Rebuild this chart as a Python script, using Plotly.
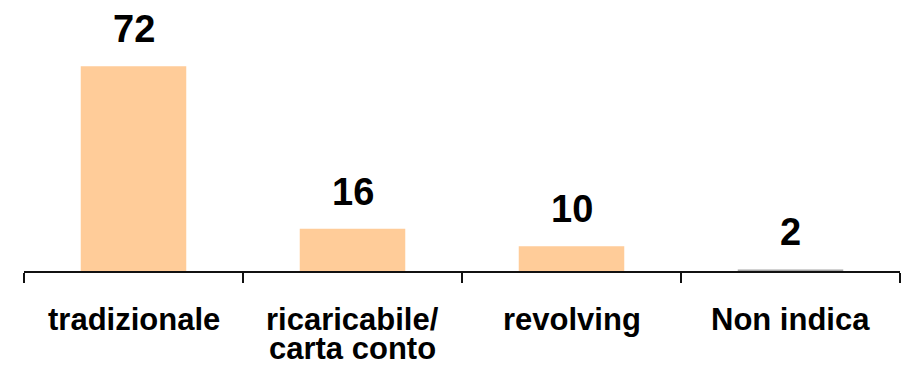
import plotly.graph_objects as go

categories = ["tradizionale", "ricaricabile/<br>carta conto", "revolving", "Non indica"]
values = [72, 16, 10, 2]
bar_colors = ["#FFCC99", "#FFCC99", "#FFCC99", "#A6A6A6"]

FONT = "Liberation Sans, Arial, sans-serif"

fig = go.Figure()
fig.add_trace(go.Bar(
    x=categories,
    y=values,
    marker=dict(color=bar_colors, line=dict(color=bar_colors, width=1.5)),
    hoverinfo="skip",
))

annotations = []
for c, v in zip(categories, values):
    annotations.append(dict(
        x=c, y=v, xref="x", yref="y", text=f"<b>{v}</b>", showarrow=False,
        yanchor="middle", yshift=38,
        font=dict(family=FONT, size=38, color="black"),
    ))
for c in categories:
    for j, line in enumerate(c.split("<br>")):
        annotations.append(dict(
            x=c, y=0, xref="x", yref="paper", text=f"<b>{line}</b>", showarrow=False,
            yanchor="middle", yshift=-48 - 29 * j, borderpad=0,
            font=dict(family=FONT, size=31, color="black"),
        ))

fig.update_layout(
    width=906, height=376,
    margin=dict(l=24, r=6, t=0, b=105),
    paper_bgcolor="white", plot_bgcolor="white",
    showlegend=False,
    bargap=0.525,
    annotations=annotations,
    xaxis=dict(
        type="category",
        showticklabels=False, showgrid=False, zeroline=False,
        showline=True, linecolor="#111111", linewidth=2,
        ticks="outside", tickson="boundaries", ticklen=10, tickwidth=2, tickcolor="#111111",
    ),
    yaxis=dict(
        range=[1.7, 95.1], visible=False, showgrid=False, zeroline=False,
    ),
)

fig.write_html("out.html")
